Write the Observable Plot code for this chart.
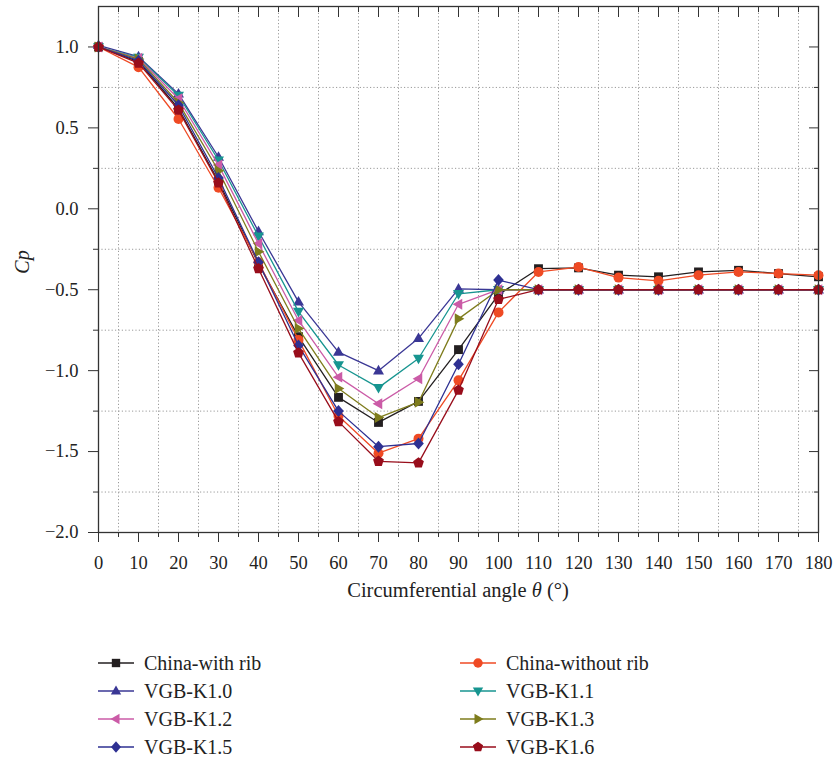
<!DOCTYPE html>
<html><head><meta charset="utf-8">
<script src="https://cdn.jsdelivr.net/npm/d3@7"></script>
<script src="https://cdn.jsdelivr.net/npm/@observablehq/plot@0.6"></script>
<style>
body{margin:0;background:#fff;font-family:"Liberation Serif","DejaVu Serif",serif;}
#wrap{position:relative;width:835px;height:761px;}
.item{position:absolute;display:flex;align-items:center;font-size:20px;color:#222;height:24px;white-space:nowrap;}
.item svg{margin-right:10px;}
</style></head><body>
<div id="wrap"><div id="chart"></div><div id="legend"></div></div>
<script>
// ---- data ----
const angles = [0,10,20,30,40,50,60,70,80,90,100,110,120,130,140,150,160,170,180];
const chinaWithRib    = [1.00,0.91,0.62,0.17,-0.34,-0.79,-1.165,-1.32,-1.19,-0.87,-0.53,-0.37,-0.365,-0.41,-0.42,-0.39,-0.38,-0.40,-0.42];
const chinaWithoutRib = [1.00,0.875,0.555,0.13,-0.33,-0.81,-1.28,-1.51,-1.42,-1.06,-0.64,-0.39,-0.36,-0.425,-0.445,-0.41,-0.39,-0.40,-0.41];
const vgbK10 = [1.01,0.94,0.71,0.32,-0.14,-0.575,-0.885,-1.00,-0.80,-0.495,-0.50,-0.50,-0.50,-0.50,-0.50,-0.50,-0.50,-0.50,-0.50];
const vgbK11 = [1.00,0.935,0.70,0.30,-0.17,-0.635,-0.965,-1.105,-0.925,-0.525,-0.50,-0.50,-0.50,-0.50,-0.50,-0.50,-0.50,-0.50,-0.50];
const vgbK12 = [1.00,0.93,0.68,0.27,-0.215,-0.69,-1.04,-1.205,-1.05,-0.59,-0.50,-0.50,-0.50,-0.50,-0.50,-0.50,-0.50,-0.50,-0.50];
const vgbK13 = [1.00,0.925,0.655,0.235,-0.265,-0.74,-1.11,-1.29,-1.195,-0.68,-0.50,-0.50,-0.50,-0.50,-0.50,-0.50,-0.50,-0.50,-0.50];
const vgbK15 = [1.00,0.915,0.64,0.19,-0.33,-0.845,-1.25,-1.47,-1.45,-0.96,-0.44,-0.50,-0.50,-0.50,-0.50,-0.50,-0.50,-0.50,-0.50];
const vgbK16 = [1.00,0.90,0.61,0.16,-0.37,-0.89,-1.315,-1.56,-1.57,-1.12,-0.56,-0.50,-0.50,-0.50,-0.50,-0.50,-0.50,-0.50,-0.50];

const xTicks = [0,10,20,30,40,50,60,70,80,90,100,110,120,130,140,150,160,170,180];
const xMinor = [5,15,25,35,45,55,65,75,85,95,105,115,125,135,145,155,165,175];
const yTicks = [-2.0,-1.5,-1.0,-0.5,0.0,0.5,1.0];
const yMinor = [-1.75,-1.25,-0.75,-0.25,0.25,0.75];

// ---- symbols ----
function poly(v){return {draw(ctx,size){const s=Math.sqrt(size);v.forEach(([x,y],i)=>i?ctx.lineTo(x*s,y*s):ctx.moveTo(x*s,y*s));ctx.closePath();}};}
const symUp = poly([[0,-0.66],[0.62,0.42],[-0.62,0.42]]);
const symDown = poly([[0,0.66],[0.62,-0.42],[-0.62,-0.42]]);
const symLeft = poly([[-0.66,0],[0.42,-0.62],[0.42,0.62]]);
const symRight = poly([[0.66,0],[-0.42,-0.62],[-0.42,0.62]]);
const symDiamond = poly([[0,-0.68],[0.6,0],[0,0.68],[-0.6,0]]);
const symPent = poly(d3.range(5).map(k=>{const a=-Math.PI/2+k*2*Math.PI/5;return [0.64*Math.cos(a),0.64*Math.sin(a)];}));

const series = [
  {name:"China-with rib", values:chinaWithRib, color:"#231f20", symbol:d3.symbolSquare},
  {name:"China-without rib", values:chinaWithoutRib, color:"#ef4a24", symbol:d3.symbolCircle},
  {name:"VGB-K1.0", values:vgbK10, color:"#3a3795", symbol:symUp},
  {name:"VGB-K1.1", values:vgbK11, color:"#179590", symbol:symDown},
  {name:"VGB-K1.2", values:vgbK12, color:"#cb5ba7", symbol:symLeft},
  {name:"VGB-K1.3", values:vgbK13, color:"#7e7c1c", symbol:symRight},
  {name:"VGB-K1.5", values:vgbK15, color:"#2e3092", symbol:symDiamond},
  {name:"VGB-K1.6", values:vgbK16, color:"#980d1b", symbol:symPent}
];

const dataMarks = series.flatMap(s=>{
  const rows = angles.map((a,i)=>({angle:a, cp:s.values[i]}));
  return [
    Plot.line(rows,{x:"angle",y:"cp",stroke:s.color,strokeWidth:1.3}),
    Plot.dot(rows,{x:"angle",y:"cp",fill:s.color,symbol:s.symbol,r:5})
  ];
});

const gridStyle = {stroke:"#9a9a9a",strokeOpacity:1,strokeWidth:1,strokeDasharray:"1.2,2.2"};
const svg = Plot.plot({
  width:835, height:610,
  marginLeft:98, marginRight:17, marginTop:6, marginBottom:78,
  x:{domain:[0,180]},
  y:{domain:[-2,1.25]},
  style:{fontFamily:'"Liberation Serif","DejaVu Serif",serif',fontSize:"18.5px",color:"#222",background:"white"},
  marks:[
    Plot.gridX(xMinor,gridStyle),
    Plot.gridY(yMinor,gridStyle),
    Plot.axisX(xTicks,{tickSize:10,tickPadding:13,tickFormat:d=>String(d),label:null,stroke:"#333"}),
    Plot.axisX(xMinor,{tickSize:5,text:null,label:null,stroke:"#333"}),
    Plot.axisX(xTicks,{anchor:"top",tickSize:-10,text:null,label:null,stroke:"#333"}),
    Plot.axisX(xMinor,{anchor:"top",tickSize:-5,text:null,label:null,stroke:"#333"}),
    Plot.axisY(yTicks,{tickSize:10,tickPadding:10,tickFormat:d3.format(".1f"),label:null,stroke:"#333"}),
    Plot.axisY(yMinor,{tickSize:5,text:null,label:null,stroke:"#333"}),
    Plot.axisY(yTicks,{anchor:"right",tickSize:-10,text:null,label:null,stroke:"#333"}),
    Plot.axisY(yMinor,{anchor:"right",tickSize:-5,text:null,label:null,stroke:"#333"}),
    ...dataMarks,
    Plot.frame({stroke:"#333",strokeWidth:1.3})
  ]
});
const sel = d3.select(svg);
const xl = sel.append("text").attr("x",458).attr("y",597).attr("text-anchor","middle").attr("font-size",20.5).attr("fill","#222");
xl.append("tspan").text("Circumferential angle ");
xl.append("tspan").attr("font-style","italic").text("θ");
xl.append("tspan").text(" (°)");
sel.append("text").attr("transform","translate(22,262) rotate(-90)").attr("dy","0.35em").attr("text-anchor","middle")
  .attr("font-size",20).attr("font-style","italic").attr("fill","#222").text("Cp");
document.getElementById("chart").appendChild(svg);

// ---- legend ----
const legend = d3.select("#legend");
const cols = [98,460], rows0 = 663, rowStep = 28;
series.forEach((s,i)=>{
  const col = i%2, row = Math.floor(i/2);
  const item = legend.append("div").attr("class","item")
    .style("left",cols[col]+"px").style("top",(rows0+row*rowStep-12)+"px");
  const isv = item.append("svg").attr("width",36).attr("height",24);
  isv.append("line").attr("x1",0).attr("x2",36).attr("y1",12).attr("y2",12).attr("stroke",s.color).attr("stroke-width",1.5);
  isv.append("path").attr("transform","translate(18,12)").attr("d",d3.symbol(s.symbol,70)()).attr("fill",s.color);
  item.append("span").text(s.name);
});
</script>
</body></html>
